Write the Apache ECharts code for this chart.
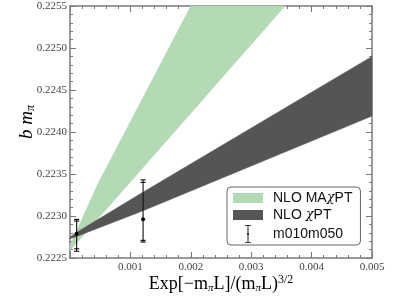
<!DOCTYPE html>
<html><head><meta charset="utf-8">
<script src="https://cdn.jsdelivr.net/npm/echarts@6/dist/echarts.min.js"></script>
<style>html,body{margin:0;padding:0;background:#fff}#c{width:399px;height:299px}</style>
</head><body><div id="c"></div>
<script>
// ---- data ----
const xMin = 0, xMax = 0.005, xStep = 0.001;
const yMin = 0.2225, yMax = 0.2255, yStep = 0.0005;

const greenLowerX = [0, 0.00103, 0.00356];
const greenLowerY = [0.22259, 0.22343, 0.2255];
const greenUpperX = [0, 0.00046, 0.0020];
const greenUpperY = [0.22265, 0.22338, 0.2255];

const blackLowerX = [0, 0.00012, 0.0012, 0.005];
const blackLowerY = [0.22273, 0.22276, 0.22306, 0.22419];
const blackUpperX = [0, 0.00012, 0.0012, 0.005];
const blackUpperY = [0.22275, 0.22281, 0.22328, 0.2249];

const pointX = [0.00011, 0.00121];
const pointY = [0.22279, 0.22296];
const errOuterLo = [0.22258, 0.22269];
const errOuterHi = [0.22296, 0.22343];
const errInnerLo = [0.22261, 0.22271];
const errInnerHi = [0.22294, 0.22340];

const seriesNames = ['NLO MA\u03c7PT', 'NLO \u03c7PT', 'm010m050'];
const greenColor = '#b3dab4';
const darkColor = '#555555';

function polygonData(lx, ly, ux, uy) {
  const pts = [];
  for (let i = 0; i < lx.length; i++) pts.push([lx[i], ly[i]]);
  for (let i = ux.length - 1; i >= 0; i--) pts.push([ux[i], uy[i]]);
  return pts;
}
const greenPoly = polygonData(greenLowerX, greenLowerY, greenUpperX, greenUpperY);
const blackPoly = polygonData(blackLowerX, blackLowerY, blackUpperX, blackUpperY);

function bandRender(poly, color) {
  return function (params, api) {
    if (params.dataIndex !== 0) return null;
    const points = poly.map(p => api.coord(p));
    return { type: 'polygon', shape: { points: points }, style: { fill: color, stroke: color, lineWidth: 0.5 } };
  };
}

const errData = pointX.map((x, i) => [x, pointY[i], errOuterLo[i], errOuterHi[i], errInnerLo[i], errInnerHi[i]]);

function errRender(params, api) {
  const x = api.value(0);
  const c = api.coord([x, api.value(1)]);
  const lo = api.coord([x, api.value(2)]);
  const hi = api.coord([x, api.value(3)]);
  const lo2 = api.coord([x, api.value(4)]);
  const hi2 = api.coord([x, api.value(5)]);
  const st = { stroke: '#111', lineWidth: 1.1 };
  const cw = 2.6;
  const cap = (p) => ({ type: 'line', shape: { x1: p[0] - cw, y1: p[1], x2: p[0] + cw, y2: p[1] }, style: st });
  return {
    type: 'group',
    children: [
      { type: 'line', shape: { x1: c[0], y1: hi[1], x2: c[0], y2: lo[1] }, style: st },
      cap(lo), cap(hi), cap(lo2), cap(hi2),
      { type: 'circle', shape: { cx: c[0], cy: c[1], r: 2 }, style: { fill: '#000' } }
    ]
  };
}

const axisColor = '#7a7a7a';
const labelFont = { fontFamily: 'Liberation Serif', fontSize: 11, color: '#444' };

function xAx(pos, showLabel) {
  return {
    type: 'value', position: pos, min: xMin, max: xMax, interval: xStep,
    axisLine: { show: true, onZero: false, lineStyle: { color: axisColor, width: 1.5 } },
    axisTick: { show: true, inside: true, length: 6, lineStyle: { color: axisColor, width: 1 } },
    minorTick: { show: true, splitNumber: 5, length: 3, lineStyle: { color: axisColor, width: 1 } },
    splitLine: { show: false },
    axisLabel: Object.assign({ show: showLabel, margin: 4,
      formatter: v => (Math.abs(v) < 1e-12 ? '' : v.toFixed(3)) }, labelFont)
  };
}
function yAx(pos, showLabel) {
  return {
    type: 'value', position: pos, min: yMin, max: yMax, interval: yStep,
    axisLine: { show: true, onZero: false, lineStyle: { color: axisColor, width: 1.5 } },
    axisTick: { show: true, inside: true, length: 6, lineStyle: { color: axisColor, width: 1 } },
    minorTick: { show: true, splitNumber: 5, length: 3, lineStyle: { color: axisColor, width: 1 } },
    splitLine: { show: false },
    axisLabel: Object.assign({ show: showLabel, margin: 3, formatter: v => v.toFixed(4) }, labelFont)
  };
}

const legendRich = {
  t: { fontFamily: 'Liberation Sans', fontSize: 14, color: '#111', lineHeight: 18 },
  g: { fontFamily: 'DejaVu Serif', fontStyle: 'italic', fontSize: 13, color: '#111', lineHeight: 18 }
};

const chart = echarts.init(document.getElementById('c'), null, { renderer: 'canvas' });
chart.setOption({
  animation: false,
  backgroundColor: '#fff',
  grid: { left: 70, right: 27, top: 6, bottom: 41, containLabel: false },
  xAxis: [xAx('bottom', true), xAx('top', false)],
  yAxis: [yAx('left', true), yAx('right', false)],
  legend: {
    left: 227, top: 187, orient: 'vertical',
    itemWidth: 30, itemHeight: 18, itemGap: 3,
    padding: [4, 8, 2, 6],
    backgroundColor: '#fff', borderColor: '#666', borderWidth: 1, borderRadius: 4,
    selectedMode: false,
    data: [
      { name: seriesNames[0], icon: 'path://M0,0H30V10H0Z' },
      { name: seriesNames[1], icon: 'path://M0,0H30V10H0Z' },
      { name: seriesNames[2], icon: 'path://M0,0H6V0.8H3.45V7.9A1.3,1.3,0,0,1,3.45,10.1V17.2H6V18H0V17.2H2.55V10.1A1.3,1.3,0,0,1,2.55,7.9V0.8H0Z' }
    ],
    formatter: function (name) {
      return '{t|' + name.replace('\u03c7', '}{g|\u03c7}{t|') + '}';
    },
    textStyle: { rich: legendRich, padding: [0, 0, 0, 5] }
  },
  graphic: [
    {
      type: 'text', x: 27, y: 122, rotation: Math.PI / 2,
      style: {
        text: '{i|b m}{s|\u03c0}',
        align: 'center', verticalAlign: 'middle',
        rich: {
          i: { fontFamily: 'Liberation Serif', fontStyle: 'italic', fontSize: 19, color: '#222', lineHeight: 20, verticalAlign: 'middle' },
          s: { fontFamily: 'Liberation Serif', fontStyle: 'italic', fontSize: 12, color: '#222', lineHeight: 8, verticalAlign: 'bottom' }
        }
      }
    },
    {
      type: 'text', x: 221, y: 284,
      style: {
        text: '{r|Exp[\u2212m}{s|\u03c0}{r|L]/(m}{s|\u03c0}{r|L)}{p|3/2}',
        align: 'center', verticalAlign: 'middle',
        rich: {
          r: { fontFamily: 'Liberation Serif', fontSize: 18, color: '#222', lineHeight: 20, verticalAlign: 'middle' },
          s: { fontFamily: 'Liberation Serif', fontStyle: 'italic', fontSize: 11, color: '#222', lineHeight: 8, verticalAlign: 'bottom' },
          p: { fontFamily: 'Liberation Serif', fontSize: 12, color: '#222', lineHeight: 10, verticalAlign: 'top' }
        }
      }
    }
  ],
  series: [
    { name: seriesNames[0], type: 'custom', xAxisIndex: 0, yAxisIndex: 0, itemStyle: { color: greenColor },
      renderItem: bandRender(greenPoly, greenColor), data: greenPoly, z: 2, silent: true },
    { name: seriesNames[1], type: 'custom', xAxisIndex: 0, yAxisIndex: 0, itemStyle: { color: darkColor },
      renderItem: bandRender(blackPoly, darkColor), data: blackPoly, z: 3, silent: true },
    { name: seriesNames[2], type: 'custom', xAxisIndex: 0, yAxisIndex: 0, itemStyle: { color: '#111' },
      renderItem: errRender, data: errData, encode: { x: 0, y: [1, 2, 3] }, z: 4, silent: true }
  ]
});
</script>
</body></html>
